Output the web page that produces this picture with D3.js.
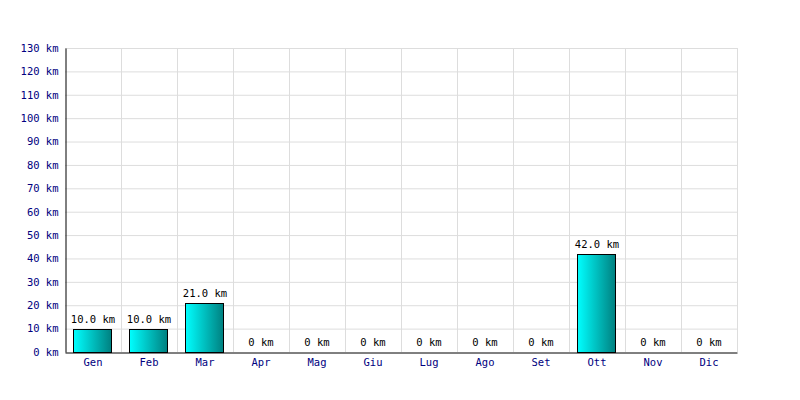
<!DOCTYPE html>
<html><head><meta charset="utf-8">
<script src="https://cdn.jsdelivr.net/npm/d3@7"></script>
<style>body{margin:0;background:#fff}svg{display:block}</style>
</head><body>
<svg id="c" width="800" height="400"></svg>
<script>
const months = ["Gen","Feb","Mar","Apr","Mag","Giu","Lug","Ago","Set","Ott","Nov","Dic"];
const km = [10,10,21,0,0,0,0,0,0,42,0,0];
const yTicks = [0,10,20,30,40,50,60,70,80,90,100,110,120,130];

const svg = d3.select("#c");
const m = {left:65, right:63, top:48, bottom:48};
const W = 800, H = 400;
const x = d3.scaleBand().domain(months).range([m.left, W-m.right]).paddingInner(0.32).paddingOuter(0.16);
const xb = d3.scaleBand().domain(months).range([m.left, W-m.right]);
const y = d3.scaleLinear().domain([0,130]).range([H-m.bottom, m.top]);
const font = "'DejaVu Sans Mono', monospace";
const fs = "10.5px";

const defs = svg.append("defs");
const g = defs.append("linearGradient").attr("id","grad").attr("x1","0").attr("x2","1").attr("y1","0").attr("y2","0");
g.append("stop").attr("offset","0").attr("stop-color","#00ffff");
g.append("stop").attr("offset","1").attr("stop-color","#008080");

// grid
svg.append("g").selectAll("line").data(yTicks.slice(1)).join("line")
  .attr("x1",m.left).attr("x2",W-m.right).attr("y1",d=>y(d)+0.5).attr("y2",d=>y(d)+0.5)
  .attr("stroke","#dddddd");
svg.append("g").selectAll("line").data(months.slice(1).concat(["__end"])).join("line")
  .attr("x1",d=>(d==="__end"?W-m.right:xb(d))+0.5).attr("x2",d=>(d==="__end"?W-m.right:xb(d))+0.5)
  .attr("y1",m.top).attr("y2",H-m.bottom).attr("stroke","#dddddd");

// bars
svg.append("g").selectAll("rect").data(months.map((d,i)=>({m:d,v:km[i]})).filter(d=>d.v>0)).join("rect")
  .attr("x",d=>Math.floor(x(d.m))+0.5).attr("width",Math.round(x.bandwidth()))
  .attr("y",d=>Math.round(y(d.v))+0.5).attr("height",d=>Math.round(y(0)-y(d.v)))
  .attr("fill","url(#grad)").attr("stroke","#000").attr("stroke-width",1);

// value labels
svg.append("g").selectAll("text").data(months.map((d,i)=>({m:d,v:km[i]}))).join("text")
  .attr("x",d=>xb(d.m)+xb.bandwidth()/2).attr("y",d=>y(d.v)-6)
  .attr("text-anchor","middle").attr("font-family",font).attr("font-size",fs).attr("fill","#000")
  .text(d=>d.v===0?"0 km":d.v.toFixed(1)+" km");

// axes
const ya = d3.axisLeft(y).tickValues(yTicks).tickSize(0).tickPadding(7).tickFormat(d=>d+" km");
const yg = svg.append("g").attr("transform",`translate(${m.left+0.5},0)`).call(ya);
yg.select(".domain").attr("stroke","#000");
yg.selectAll("text").attr("font-family",font).attr("font-size",fs).attr("fill","#000080");
const xa = d3.axisBottom(xb).tickSize(0).tickPadding(6);
const xg = svg.append("g").attr("transform",`translate(0,${H-m.bottom+0.5})`).call(xa);
xg.select(".domain").attr("stroke","#000");
xg.selectAll("text").attr("font-family",font).attr("font-size",fs).attr("fill","#000080");
</script>
</body></html>
